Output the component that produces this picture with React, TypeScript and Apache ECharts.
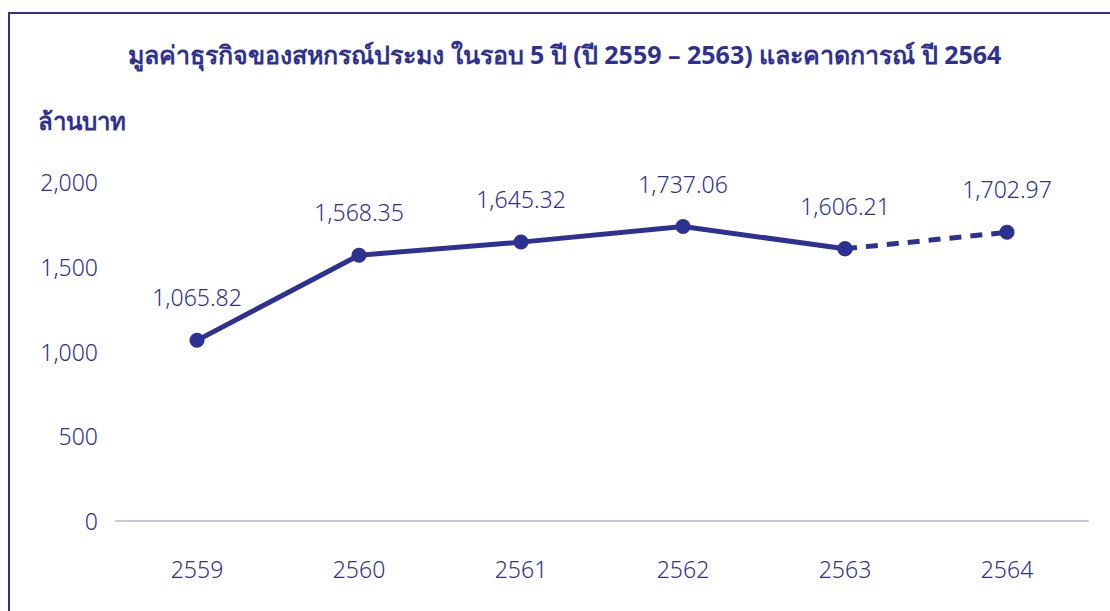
import React, { useEffect, useRef } from "react";
import * as echarts from "echarts";

const categories = ["2559", "2560", "2561", "2562", "2563", "2564"];
const actualValues: (number | null)[] = [1065.82, 1568.35, 1645.32, 1737.06, 1606.21, null];
const forecastValues: (number | null)[] = [null, null, null, null, 1606.21, 1702.97];
const yTicks = { min: 0, max: 2000, interval: 500 };
const titleText = "มูลค่าธุรกิจของสหกรณ์ประมง ในรอบ 5 ปี (ปี 2559 – 2563) และคาดการณ์ ปี 2564";
const yName = "ล้านบาท";

const NAVY = "#2e3192";
const FONT = "'Noto Sans', 'Open Sans', sans-serif";

const fmt = (v: number) =>
  v.toLocaleString("en-US", { minimumFractionDigits: 2, maximumFractionDigits: 2 });

export default function App() {
  const ref = useRef<HTMLDivElement>(null);
  useEffect(() => {
    document.body.style.margin = "0";
    const chart = echarts.init(ref.current!, null, { renderer: "svg" });
    chart.setOption({
      animation: false,
      backgroundColor: "#ffffff",
      title: {
        text: titleText,
        left: 123,
        top: 36,
        textStyle: { color: NAVY, fontFamily: FONT, fontWeight: "bold", fontSize: 25 },
      },
      graphic: [
        {
          type: "polyline",
          shape: { points: [[9, 640], [9, 13], [1112, 13]] },
          style: { stroke: NAVY, lineWidth: 2, fill: null },
          silent: true,
        },
        {
          type: "text",
          left: 38,
          top: 108,
          style: { text: yName, fill: NAVY, font: `bold 24px ${FONT}` },
        },
      ],
      grid: { left: 116, right: 22, top: 182, bottom: 90, containLabel: false },
      xAxis: {
        type: "category",
        data: categories,
        boundaryGap: true,
        axisLine: { show: true, lineStyle: { color: "#c5c6e8", width: 2 } },
        axisTick: { show: false },
        axisLabel: { color: NAVY, fontFamily: FONT, fontWeight: 300, fontSize: 23, margin: 36 },
        splitLine: { show: false },
      },
      yAxis: {
        type: "value",
        min: yTicks.min,
        max: yTicks.max,
        interval: yTicks.interval,
        axisLine: { show: false },
        axisTick: { show: false },
        splitLine: { show: false },
        axisLabel: {
          color: NAVY,
          fontFamily: FONT,
          fontWeight: 300,
          fontSize: 23,
          margin: 18,
          formatter: (v: number) => v.toLocaleString("en-US"),
        },
      },
      series: [
        {
          type: "line",
          data: actualValues,
          symbol: "circle",
          symbolSize: 15,
          itemStyle: { color: NAVY },
          lineStyle: { color: NAVY, width: 5 },
          label: {
            show: true,
            position: "top",
            distance: 24,
            color: NAVY,
            fontFamily: FONT,
            fontWeight: 300,
            fontSize: 23,
            formatter: (p: any) => fmt(p.value),
          },
          z: 3,
        },
        {
          type: "line",
          data: forecastValues,
          symbol: "circle",
          symbolSize: 15,
          itemStyle: { color: NAVY },
          lineStyle: { color: NAVY, width: 5, type: [12, 9] },
          label: {
            show: true,
            position: "top",
            distance: 24,
            color: NAVY,
            fontFamily: FONT,
            fontWeight: 300,
            fontSize: 23,
            formatter: (p: any) => (p.dataIndex === 5 ? fmt(p.value) : ""),
          },
          z: 2,
        },
      ],
    });
    return () => chart.dispose();
  }, []);
  return <div ref={ref} style={{ width: 1110, height: 611 }} />;
}
